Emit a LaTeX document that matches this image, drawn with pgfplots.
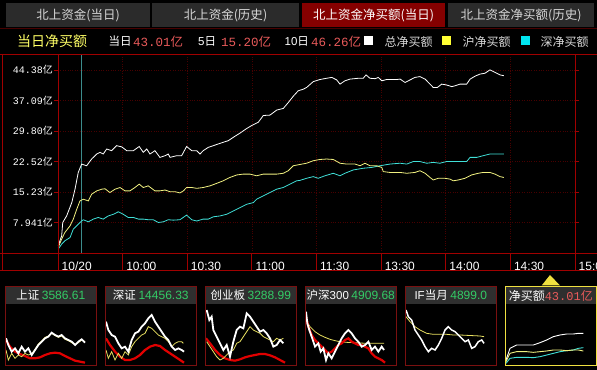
\documentclass[border=0pt]{standalone}
\usepackage{pgfplots}
\pgfplotsset{compat=1.18}
\usepackage{fontspec}
\setmainfont{Noto Sans CJK SC}
\newfontfamily\mono{Liberation Mono}
\newfontfamily\ari{Liberation Sans}
\newcommand\fs[1]{\fontsize{#1bp}{#1bp}\selectfont}
\definecolor{bordred}{HTML}{A00000}
\definecolor{gridred}{HTML}{480000}
\definecolor{tabgray}{HTML}{2B2B2B}
\definecolor{tabsel}{HTML}{850000}
\definecolor{legyellow}{HTML}{FFFF66}
\definecolor{numred}{HTML}{E85A5A}
\definecolor{lyel}{HTML}{F0F080}
\definecolor{lcyan}{HTML}{40E0D8}
\definecolor{sqyel}{HTML}{FFFF33}
\definecolor{sqcyan}{HTML}{00E5F0}
\definecolor{idxgreen}{HTML}{33CC66}
\definecolor{txtgray}{HTML}{D8D8D8}
\definecolor{cursor}{HTML}{3C8C8C}
\definecolor{boxred}{HTML}{7A1010}
\definecolor{hdrgray}{HTML}{2F2F2F}
\definecolor{minired}{HTML}{E00000}
\definecolor{miniyel}{HTML}{E8E060}
\definecolor{boxyel}{HTML}{F0E040}
\pgfplotsset{mini/.style={scale only axis, width=91.7bp, height=61bp, hide axis,
  ymin=72, ymax=255, y dir=reverse, anchor=south west}}
\begin{document}
\begin{tikzpicture}
\useasboundingbox (0,0) rectangle (597bp,370bp);
\fill[black] (0,0) rectangle (597bp,370bp);
\begin{scope}[x=1bp,y=1bp]
% tabs
\fill[tabgray] (5.7,342.5) rectangle (150.4,366.5);
\fill[tabgray] (152.3,342.5) rectangle (298.8,366.5);
\fill[tabsel] (301.5,342.5) rectangle (445.4,366.5);
\fill[tabgray] (448.4,342.5) rectangle (593.8,366.5);
\node[text=txtgray, font=\fs{12.5}] at (78,354.5) {北上资金(当日)};
\node[text=txtgray, font=\fs{12.5}] at (225.5,354.5) {北上资金(历史)};
\node[text=white, font=\fs{12.5}] at (373.5,354.5) {北上资金净买额(当日)};
\node[text=txtgray, font=\fs{12.5}] at (521,354.5) {北上资金净买额(历史)};
\draw[gridred, line width=0.8bp] (0,341.5) -- (597,341.5);
% legend row
\node[anchor=west, inner sep=0, text=legyellow, font=\fs{14}] at (17,328.5) {当日净买额};
\node[anchor=west, inner sep=0, text=white, font=\fs{11.5}] at (108.5,328.5) {当日};
\node[anchor=west, inner sep=0, text=numred, font=\fs{12.5}] at (133,328.5) {{\mono 43.01}亿};
\node[anchor=west, inner sep=0, text=white, font=\fs{11.5}] at (198,328.5) {{\ari 5}日};
\node[anchor=west, inner sep=0, text=numred, font=\fs{12.5}] at (221,328.5) {{\mono 15.20}亿};
\node[anchor=west, inner sep=0, text=white, font=\fs{11.5}] at (284.5,328.5) {{\ari 10}日};
\node[anchor=west, inner sep=0, text=numred, font=\fs{12.5}] at (311,328.5) {{\mono 46.26}亿};
\fill[white] (363.5,324.5) rectangle (373,334);
\node[anchor=west, inner sep=0, text=txtgray, font=\fs{12}] at (384.5,328.5) {总净买额};
\fill[sqyel] (441.6,324.5) rectangle (451,334);
\node[anchor=west, inner sep=0, text=txtgray, font=\fs{12}] at (462.5,328.5) {沪净买额};
\fill[sqcyan] (520.7,324.5) rectangle (530,334);
\node[anchor=west, inner sep=0, text=txtgray, font=\fs{12}] at (540.5,328.5) {深净买额};
% mini panel headers
\foreach \i in {0,...,5}{
  \fill[hdrgray] ({5+100*\i},66) rectangle ({96.7+100*\i},83.3);
}
\fill[boxyel] (541.7,84.5) -- (550,95) -- (560,84.5) -- cycle;
\end{scope}

% ---------------- main chart ----------------
\begin{axis}[
  at={(58bp,117bp)}, anchor=south west, scale only axis,
  width=517bp, height=199bp,
  xmin=0, xmax=240, ymin=0.651, ymax=48.2,
  axis line style={draw=none},
  xtick={0,30,60,90,120,150,180,210,240},
  xticklabels={10/20,10:00,10:30,11:00,11:30,13:30,14:00,14:30,15:00},
  ytick={7.941,15.23,22.52,29.80,37.09,44.38},
  yticklabels={{\mono 7.941}亿,{\mono 15.23}亿,{\mono 22.52}亿,{\mono 29.80}亿,{\mono 37.09}亿,{\mono 44.38}亿},
  grid=major, major grid style={gridred, dotted, line width=0.6bp},
  tick align=outside, major tick length=4bp,
  xtick style={draw=none}, ytick style={bordred, line width=0.8bp},
  xticklabel style={font=\ari\fs{12}, text=white, anchor=west, inner sep=0pt, xshift=3.5bp, yshift=-9.5bp},
  yticklabel style={font=\fs{10}, text=white, anchor=east, inner sep=0pt, xshift=-1bp},
]
\draw[cursor, line width=0.8bp] (axis cs:10.9,0.651) -- (axis cs:10.9,48.2);
\addplot[lcyan, line width=0.8bp] coordinates {
(0.1,1.57) (1.7,2.77) (3.2,3.57) (5.6,4.35) (7.1,6.36) (8.7,7.15) (10.2,7.94) (11.7,8.6) (14.1,8.1) (16.4,8.75) (18.7,9.14) (21.0,8.75) (23.3,9.5) (25.7,9.9) (28.0,10.5) (30.3,9.9) (32.6,9.14) (35.0,9.14) (37.3,8.75) (39.6,8.75) (41.9,8.6) (44.2,8.6) (46.6,7.94) (48.9,8.1) (51.2,8.6) (53.5,8.5) (56.6,8.6) (59.7,9.7) (62.1,8.6) (64.4,8.3) (67.4,8.75) (69.8,8.75) (72.1,9.3) (75.2,9.5) (78.3,9.9) (81.4,10.7) (84.5,11.5) (87.6,12.3) (90.7,12.7) (92.2,13.5) (95.3,14.3) (98.4,15.1) (101.5,15.9) (104.6,16.3) (107.7,17.1) (110.8,17.9) (112.3,18.0) (115.4,18.5) (118.5,18.9) (120.8,18.5) (123.9,19.1) (127.8,19.7) (130.9,19.1) (133.2,19.7) (137.1,20.5) (141.7,20.9) (145.6,21.1) (149.5,21.5) (154.1,21.9) (158.8,22.1) (161.9,21.9) (164.9,22.5) (168.0,22.5) (171.2,22.1) (174.2,22.3) (177.3,22.1) (180.4,22.5) (183.5,22.5) (186.6,22.5) (189.7,22.5) (191.3,23.5) (194.4,23.5) (197.4,23.9) (200.5,24.3) (203.6,24.3) (207.0,24.3)};
\addplot[lyel, line width=0.8bp] coordinates {
(0.1,1.96) (1.7,3.97) (3.2,5.55) (5.6,7.15) (7.1,8.75) (8.7,11.1) (10.2,13.1) (11.7,13.5) (14.1,13.1) (15.6,14.7) (18.0,15.5) (20.3,15.9) (21.8,16.0) (24.1,15.1) (26.5,15.9) (28.8,16.3) (31.1,15.5) (33.4,15.5) (35.7,16.3) (37.7,17.1) (39.6,16.3) (41.9,16.7) (45.0,15.5) (47.3,15.5) (49.7,15.7) (52.0,15.3) (54.3,15.3) (56.6,15.0) (58.2,15.5) (59.7,16.3) (62.1,16.3) (64.4,16.1) (67.4,16.3) (70.6,16.7) (73.7,17.3) (76.7,17.9) (79.8,18.7) (83.0,19.3) (86.0,19.5) (89.1,19.5) (92.2,19.1) (95.3,19.5) (98.4,19.5) (101.5,19.5) (104.6,19.7) (106.9,20.3) (109.2,21.5) (112.3,21.8) (115.4,22.1) (118.5,22.7) (121.6,23.0) (124.7,23.1) (127.8,23.0) (130.9,22.1) (134.0,21.9) (137.9,21.9) (140.2,21.5) (142.5,22.1) (144.8,21.5) (147.9,21.5) (150.3,21.1) (151.0,20.1) (154.1,19.9) (158.8,19.9) (161.9,19.7) (165.7,19.9) (168.0,20.3) (170.4,19.7) (172.7,18.7) (174.2,18.1) (176.5,18.5) (179.6,18.5) (182.0,18.3) (183.5,17.9) (185.8,18.1) (188.9,18.5) (192.0,19.3) (195.1,19.7) (197.4,19.9) (200.5,19.9) (202.9,19.5) (205.2,18.9) (207.0,18.7)};
\addplot[white, line width=0.8bp] coordinates {
(0.1,2.37) (1.7,4.76) (2.2,7.94) (4.0,9.5) (6.4,12.7) (7.9,15.9) (9.4,19.9) (11.0,21.9) (13.3,21.5) (15.6,23.1) (18.0,24.3) (19.5,24.7) (21.0,24.3) (22.6,25.5) (24.9,25.1) (27.2,26.3) (29.6,26.0) (31.9,25.1) (35.0,25.1) (37.7,26.1) (39.6,24.7) (41.2,25.5) (42.7,24.3) (45.0,25.1) (47.3,23.5) (49.7,23.9) (51.2,24.3) (52.0,23.5) (55.1,23.9) (57.4,23.9) (59.7,26.1) (62.1,25.1) (64.4,25.1) (65.9,24.3) (67.4,25.1) (69.8,25.9) (72.1,26.3) (74.4,26.7) (76.7,27.1) (79.1,27.5) (81.4,28.3) (84.5,29.3) (87.6,30.4) (89.9,31.1) (93.0,31.9) (95.3,33.5) (98.4,33.6) (101.5,34.8) (104.6,35.2) (106.9,36.6) (109.2,38.1) (111.5,39.4) (113.9,39.8) (115.4,40.2) (118.5,41.6) (121.6,42.1) (124.7,42.4) (127.1,42.6) (129.4,42.0) (130.9,41.0) (133.2,41.8) (135.6,42.2) (139.4,42.4) (141.7,42.4) (143.0,43.2) (144.8,42.4) (147.2,42.3) (148.7,42.6) (150.3,41.8) (152.6,42.1) (157.2,42.1) (158.8,42.2) (161.1,41.4) (163.4,42.0) (165.7,42.6) (168.0,42.8) (170.4,42.2) (172.7,41.0) (174.2,40.2) (176.1,40.2) (178.1,41.0) (180.4,40.8) (182.8,40.4) (184.3,40.6) (186.6,41.0) (189.7,41.0) (191.3,42.2) (193.6,42.9) (195.9,43.4) (198.2,43.6) (200.5,44.4) (202.9,43.8) (205.2,43.2) (207.0,43.01)};
\end{axis}

% ---------------- mini panels ----------------
\begin{axis}[mini, at={(5bp,5bp)}, xmin=15, xmax=290]
\addplot[minired, line width=2.2bp] coordinates {(18,180) (30,200) (45,215) (60,222) (75,228) (90,235) (105,235) (120,232) (135,225) (150,220) (165,218) (180,220) (195,228) (210,235) (225,242) (240,245) (255,248)};
\addplot[miniyel, line width=0.8bp] coordinates {(18,210) (25,240) (35,220) (45,235) (55,225) (65,230) (75,220) (85,225) (95,222) (105,208) (115,192) (125,183) (135,172) (145,168) (155,160) (165,167) (175,172) (185,168) (195,178) (205,182) (215,188) (225,193) (235,188) (245,180) (255,185)};
\addplot[white, line width=1.8bp] coordinates {(18,175) (25,195) (35,215) (45,205) (55,220) (65,200) (75,215) (85,205) (95,225) (105,210) (115,195) (125,185) (135,175) (145,170) (155,158) (165,165) (175,170) (185,165) (195,175) (205,180) (215,185) (225,195) (235,185) (245,178) (255,188)};
\end{axis}
\begin{axis}[mini, at={(105bp,5bp)}, xmin=315, xmax=590]
\addplot[minired, line width=2.2bp] coordinates {(318,175) (330,195) (345,215) (360,230) (375,240) (390,240) (405,235) (420,225) (435,210) (450,200) (465,195) (480,198) (495,210) (510,220) (525,230) (540,240) (552,248)};
\addplot[miniyel, line width=0.8bp] coordinates {(318,210) (325,235) (335,215) (345,240) (355,220) (365,235) (375,215) (385,225) (395,200) (405,185) (415,175) (425,165) (435,160) (445,140) (455,145) (465,155) (475,165) (485,170) (495,175) (505,185) (515,200) (525,190) (535,185) (545,185) (550,190)};
\addplot[white, line width=1.8bp] coordinates {(318,125) (325,150) (335,165) (345,170) (355,190) (365,205) (375,200) (385,215) (395,180) (405,160) (415,155) (425,140) (435,130) (445,115) (455,105) (465,125) (475,140) (485,155) (495,170) (505,180) (515,200) (525,210) (535,205) (545,210) (552,215)};
\end{axis}
\begin{axis}[mini, at={(205bp,5bp)}, xmin=615, xmax=890]
\addplot[minired, line width=2.2bp] coordinates {(618,175) (630,190) (645,210) (660,225) (675,235) (690,240) (705,242) (720,238) (735,232) (750,228) (765,225) (780,222) (795,222) (810,226) (825,232) (840,240) (855,248)};
\addplot[miniyel, line width=0.8bp] coordinates {(620,185) (630,200) (640,215) (650,230) (660,240) (670,235) (680,225) (690,215) (700,210) (710,190) (720,185) (730,170) (740,155) (750,140) (760,150) (770,155) (780,160) (790,170) (800,175) (810,180) (820,185) (830,175) (840,180) (850,175)};
\addplot[white, line width=1.8bp] coordinates {(620,90) (628,120) (635,110) (640,150) (650,170) (660,190) (670,210) (680,195) (690,230) (700,185) (710,150) (720,140) (730,145) (740,100) (750,110) (760,125) (770,140) (780,155) (790,150) (800,160) (810,175) (820,200) (830,195) (840,180) (850,190)};
\end{axis}
\begin{axis}[mini, at={(305bp,5bp)}, xmin=15, xmax=290]
\addplot[miniyel, line width=0.8bp] coordinates {(18,120) (30,140) (45,155) (60,165) (75,172) (90,178) (105,182) (120,185) (140,187) (160,188) (180,189) (200,190) (220,190) (240,190) (252,190)};
\addplot[minired, line width=2.2bp] coordinates {(18,110) (25,140) (35,165) (45,180) (55,190) (65,200) (75,210) (85,220) (95,215) (105,205) (115,195) (125,190) (135,180) (145,175) (155,185) (165,190) (175,195) (185,195) (195,200) (205,205) (215,220) (225,230) (235,235) (245,240) (255,248)};
\addplot[white, line width=1.8bp] coordinates {(18,95) (22,130) (28,150) (35,170) (45,200) (55,190) (62,215) (70,205) (78,240) (85,220) (95,235) (105,215) (115,195) (125,175) (135,160) (145,150) (155,160) (165,175) (175,185) (185,200) (195,195) (205,185) (215,210) (225,200) (235,215) (245,200) (252,210)};
\end{axis}
\begin{axis}[mini, at={(405bp,5bp)}, xmin=315, xmax=590]
\addplot[miniyel, line width=0.8bp] coordinates {(318,110) (330,125) (345,140) (360,150) (380,160) (400,163) (420,163) (440,163) (460,165) (480,165) (500,166) (520,167) (540,168) (552,170)};
\addplot[white, line width=1.5bp] coordinates {(318,90) (325,110) (335,120) (345,150) (355,165) (365,180) (375,200) (385,215) (395,205) (405,210) (415,195) (425,175) (435,150) (445,140) (455,150) (465,155) (475,165) (485,175) (495,185) (505,180) (515,205) (525,200) (535,185) (545,180) (552,190)};
\end{axis}
\begin{axis}[mini, at={(505bp,5bp)}, xmin=615, xmax=890]
\addplot[lcyan, line width=0.9bp] coordinates {(618,250) (630,235) (650,232) (680,232) (700,233) (720,230) (740,225) (760,220) (780,215) (800,212) (820,210) (835,205) (850,203)};
\addplot[lyel, line width=0.9bp] coordinates {(618,245) (630,220) (650,215) (680,215) (700,217) (720,215) (740,213) (760,210) (780,210) (800,212) (820,210) (835,210) (850,213)};
\addplot[white, line width=0.9bp] coordinates {(618,240) (630,205) (650,195) (680,195) (700,195) (720,188) (740,180) (760,170) (780,165) (800,162) (820,162) (835,160) (850,160)};
\end{axis}

\begin{scope}[x=1bp,y=1bp]
% main frame lines
\draw[bordred, line width=0.8bp] (0,316) -- (597,316);
\draw[bordred, line width=0.8bp] (0,117) -- (597,117);
\draw[bordred, line width=0.8bp] (0,100) -- (597,100);
\draw[bordred, line width=0.8bp] (2,316) -- (2,100);
\draw[bordred, line width=0.8bp] (575,316) -- (575,100);
\foreach \k in {0,...,8}{
  \draw[bordred, line width=0.8bp] ({58+64.625*\k},117) -- ({58+64.625*\k},100);
}
\draw[bordred, line width=0.8bp] (58,316) -- (58,117);
% mini boxes
\foreach \i in {0,...,4}{
  \draw[boxred, line width=0.8bp] ({5+100*\i},5) rectangle ({96.7+100*\i},83.3);
}
\draw[boxyel, line width=0.9bp] (505,5) rectangle (596.5,83.3);
% mini headers text
\node[font=\fs{11.5}, text=white, inner sep=0] at (50.8,74.5) {上证 \textcolor{idxgreen}{\ari\fs{12}3586.61}};
\node[font=\fs{11.5}, text=white, inner sep=0] at (150.8,74.5) {深证 \textcolor{idxgreen}{\ari\fs{12}14456.33}};
\node[font=\fs{11.5}, text=white, inner sep=0] at (250.8,74.5) {创业板 \textcolor{idxgreen}{\ari\fs{12}3288.99}};
\node[font=\fs{11.5}, text=white, inner sep=0] at (350.8,74.5) {沪深{\ari 300} \textcolor{idxgreen}{\ari\fs{12}4909.68}};
\node[font=\fs{11.5}, text=white, inner sep=0] at (450.8,74.5) {{\ari IF}当月 \textcolor{idxgreen}{\ari\fs{12}4899.0}};
\node[font=\fs{12}, text=white, inner sep=0] at (550.8,74.5) {净买额\textcolor{numred}{{\mono 43.01}亿}};
\end{scope}
\end{tikzpicture}
\end{document}
